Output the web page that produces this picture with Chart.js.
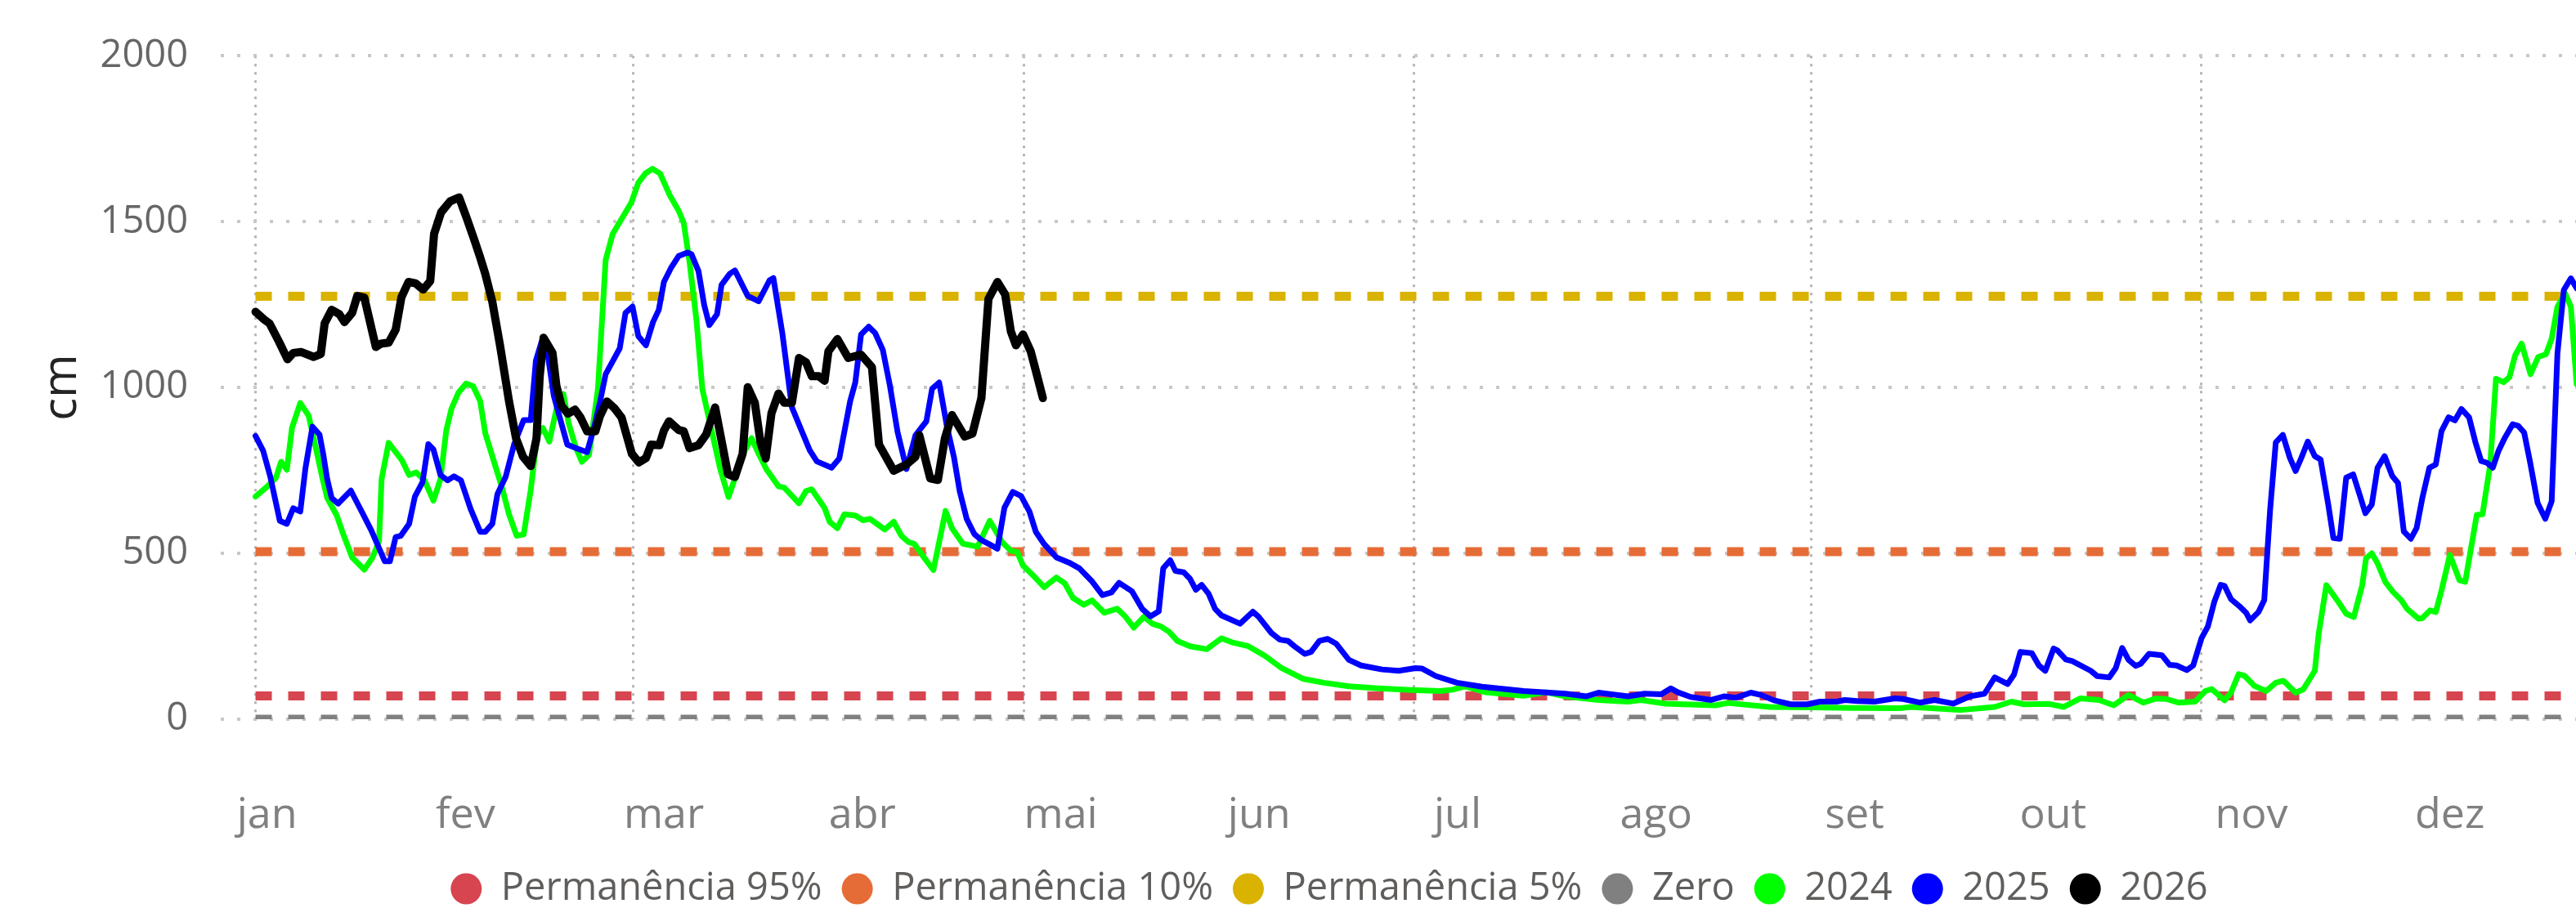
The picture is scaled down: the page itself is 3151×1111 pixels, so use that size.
<!DOCTYPE html>
<html>
<head>
<meta charset="utf-8">
<script src="https://cdn.jsdelivr.net/npm/chart.js@4.4.1/dist/chart.umd.min.js"></script>
<style>
html,body{margin:0;padding:0;background:#ffffff;overflow:hidden;width:3151px;height:1111px;}
#wrap{position:absolute;left:0;top:0;width:3252px;height:1121px;}
canvas{display:block;}
</style>
</head>
<body>
<div id="wrap"><canvas id="chart" width="3252" height="1121"></canvas></div>
<script>
// ---------- data (x = day of year, 0 = 1 jan) ----------
const monthLabels = ['jan','fev','mar','abr','mai','jun','jul','ago','set','out','nov','dez'];
const monthLabelDays = [1.8, 32.8, 63.8, 94.8, 125.8, 156.8, 187.8, 218.8, 249.8, 280.8, 311.8, 342.8];
const gridMonthDays = [0, 59, 120, 181, 243, 304];
const yTickValues = [0, 500, 1000, 1500, 2000];

const thresholdNames = ['Permanência 95%', 'Permanência 10%', 'Permanência 5%', 'Zero'];
const thresholdValues = [70, 505, 1275, 0];
const thresholdDays = [0, 365];

const seriesNames = ['2024', '2025', '2026'];

const series2024 = [[0,671],[1.7,699],[3.2,728],[4.0,776],[4.9,752],[5.7,878],[7.0,953],[8.3,915],[9.3,829],[10.4,732],[11.2,667],[12.7,614],[13.8,553],[15.1,488],[17.0,451],[18.3,488],[19.3,537],[19.7,724],[20.8,833],[22.9,780],[24.0,736],[25.1,744],[26.4,720],[27.8,659],[28.9,724],[29.8,870],[30.6,935],[31.7,984],[32.9,1012],[34.0,1004],[35.1,959],[35.9,862],[37.2,780],[38.5,699],[39.6,618],[40.8,553],[41.9,557],[43.0,691],[44.0,854],[44.9,878],[45.9,837],[47.2,951],[48.1,980],[48.9,894],[50.0,821],[51.0,776],[52.1,797],[53.5,996],[54.7,1384],[55.8,1463],[58.7,1557],[59.8,1617],[60.9,1645],[62.0,1659],[63.2,1645],[64.7,1580],[66.1,1533],[66.9,1496],[67.8,1379],[68.9,1201],[69.8,996],[71.2,875],[72.6,754],[73.9,670],[75.2,744],[76.3,805],[77.5,847],[78.6,800],[79.8,754],[81.7,702],[82.6,698],[84.9,651],[86.0,688],[86.9,693],[88.9,637],[89.7,595],[90.9,576],[92.0,618],[93.7,614],[94.9,600],[96.0,604],[98.3,572],[99.7,595],[100.9,553],[102.0,534],[102.9,529],[104.6,483],[105.9,450],[106.6,515],[107.8,628],[108.8,576],[110.5,529],[112.8,520],[114.7,598],[116.7,532],[118.0,508],[119.0,504],[119.9,463],[121.6,431],[123.2,398],[125.1,427],[126.4,410],[127.7,366],[129.4,345],[130.7,358],[132.6,321],[134.6,333],[135.9,309],[137.2,276],[138.8,309],[140.1,288],[141.4,280],[142.7,264],[144.0,236],[146.0,220],[148.6,211],[150.9,244],[152.5,232],[155.1,220],[157.7,191],[160.3,154],[163.6,122],[166.9,110],[170.8,99],[175.4,93],[180.5,88],[185.1,85],[187.0,89],[189.0,99],[192.2,81],[195.5,75],[198.1,71],[201.7,81],[204.6,69],[209.8,58],[214.4,53],[216.4,58],[220.3,47],[228.1,42],[230.0,49],[236.5,37],[243.0,36],[249.6,34],[256.8,33],[258.7,37],[266.5,28],[271.7,37],[274.3,53],[276.3,45],[280.2,46],[282.5,37],[285.1,63],[288.0,58],[290.3,42],[292.6,73],[294.9,50],[296.8,62],[298.5,61],[300.4,50],[303.0,53],[304.6,85],[305.6,91],[307.6,57],[308.6,80],[309.8,136],[310.7,131],[312.3,100],[314.1,85],[315.6,110],[316.8,116],[318.7,80],[319.9,90],[321.7,146],[322.3,257],[323.5,404],[325.4,353],[326.6,318],[327.8,308],[329.1,404],[329.7,485],[330.6,500],[331.5,470],[332.7,414],[333.9,384],[335.2,359],[336.1,333],[337.9,303],[338.5,305],[339.7,328],[340.6,323],[341.5,389],[342.8,495],[344.3,419],[345.2,414],[347.0,616],[347.9,618],[349.1,768],[350.0,1026],[351.2,1016],[352.1,1031],[353.0,1097],[354.0,1132],[355.4,1040],[356.6,1092],[357.8,1100],[358.7,1147],[359.6,1243],[360.8,1284],[361.7,1243],[362.6,1011]];

const series2025 = [[0,854],[1.2,809],[2.3,732],[3.8,598],[4.9,589],[5.9,636],[7.0,626],[7.8,756],[8.9,882],[10.0,858],[10.6,797],[11.2,724],[11.9,667],[12.9,650],[14.9,689],[15.7,659],[16.8,618],[18.1,569],[19.3,516],[20.2,476],[21.0,476],[21.9,549],[22.7,553],[24.0,589],[24.9,671],[26.1,715],[27.0,829],[27.8,813],[28.9,736],[30.0,720],[31.0,732],[32.1,720],[33.6,634],[35.1,565],[35.9,565],[37.0,589],[37.8,679],[39.1,732],[40.4,829],[41.9,902],[43.0,902],[43.8,1081],[44.7,1138],[45.5,1120],[46.6,975],[48.7,828],[50.4,815],[51.8,805],[52.9,880],[53.8,955],[54.7,1040],[56.9,1118],[57.8,1225],[58.9,1244],[59.8,1155],[61.0,1127],[62.1,1197],[63.0,1234],[63.8,1318],[64.9,1360],[66.1,1396],[67.5,1407],[68.1,1402],[69.2,1351],[70.1,1248],[70.9,1188],[72.1,1221],[72.8,1309],[74.1,1343],[74.9,1353],[76.9,1276],[78.6,1260],[80.3,1323],[80.9,1330],[82.3,1164],[83.8,940],[85.2,875],[86.6,810],[87.7,777],[90.0,758],[91.2,786],[92.9,959],[93.7,1015],[94.6,1160],[95.8,1183],[96.8,1164],[98.0,1113],[99.1,1006],[100.3,866],[101.7,754],[103.1,856],[104.8,898],[105.7,996],[106.8,1015],[108.0,884],[109.1,791],[110.0,688],[111.1,604],[112.3,558],[113.4,540],[114.5,529],[115.9,514],[117.0,638],[118.3,685],[119.6,673],[120.9,626],[121.9,565],[123.2,528],[125.1,488],[127.1,472],[128.7,455],[130.7,415],[132.3,374],[133.7,382],[134.9,411],[136.9,386],[138.5,333],[139.8,310],[141.1,325],[141.8,455],[142.9,479],[143.7,447],[145.0,443],[146.0,423],[146.9,390],[147.8,405],[148.9,378],[149.9,333],[150.9,313],[153.8,288],[155.8,324],[156.7,309],[158.7,260],[160.0,240],[161.3,236],[162.3,220],[163.9,197],[164.9,203],[166.2,236],[167.5,242],[168.8,228],[170.8,179],[172.7,162],[176.0,150],[178.6,146],[181.2,154],[182.2,153],[184.4,130],[187.7,110],[191.6,98],[198.1,85],[204.6,77],[207.9,69],[209.8,80],[211.8,75],[214.4,69],[217.0,77],[219.6,75],[221.1,93],[222.2,81],[224.2,67],[227.4,58],[229.4,69],[231.3,65],[233.6,80],[235.2,73],[237.2,57],[239.8,45],[242.4,45],[244.4,53],[247.0,53],[248.3,58],[250.2,55],[252.9,53],[256.1,63],[257.4,61],[260.0,50],[262.3,58],[265.2,47],[267.8,69],[270.1,77],[271.7,126],[273.7,106],[274.7,134],[275.7,203],[277.5,199],[278.6,162],[279.6,146],[280.9,213],[281.5,207],[282.8,180],[283.8,175],[286.7,146],[287.7,130],[289.6,126],[290.6,154],[291.6,215],[292.6,179],[293.7,161],[294.5,167],[295.8,197],[297.8,193],[299.0,164],[300.1,162],[301.7,148],[302.7,162],[304.0,244],[305.0,280],[306.0,354],[307.0,405],[307.6,402],[308.6,362],[309.9,341],[311.0,320],[311.6,298],[312.9,323],[313.8,359],[314.7,627],[315.6,834],[316.7,857],[317.8,788],[318.7,748],[319.6,788],[320.6,837],[321.7,793],[322.6,783],[323.8,647],[324.6,546],[325.6,544],[326.6,728],[327.7,738],[328.7,677],[329.6,621],[330.6,647],[331.5,758],[332.6,793],[333.8,733],[334.7,712],[335.6,566],[336.7,544],[337.6,576],[338.5,667],[339.6,758],[340.6,768],[341.5,869],[342.6,910],[343.6,901],[344.6,935],[345.8,910],[346.8,834],[347.7,778],[348.6,773],[349.5,758],[350.4,809],[351.4,849],[352.6,889],[353.5,884],[354.4,864],[355.3,778],[356.5,652],[357.7,604],[358.7,657],[359.6,1102],[360.6,1294],[361.7,1329],[362.6,1299]];

const series2026 = [[0,1228],[1.4,1204],[2.2,1193],[3.7,1137],[5.0,1085],[5.9,1104],[7.1,1107],[9.1,1092],[10.2,1101],[10.8,1193],[11.9,1234],[13.1,1221],[13.9,1197],[15.1,1225],[15.9,1276],[17.0,1271],[18.8,1122],[19.6,1132],[20.8,1135],[21.9,1174],[22.8,1272],[23.9,1318],[25.0,1314],[26.2,1295],[27.3,1321],[27.9,1463],[29.0,1528],[30.4,1561],[31.8,1573],[33.0,1510],[34.2,1444],[35.0,1398],[35.9,1342],[37.0,1258],[38.2,1127],[39.6,959],[40.7,847],[41.8,791],[43.0,763],[43.9,847],[44.4,1034],[45.0,1150],[46.4,1104],[47.0,1006],[47.8,945],[48.8,921],[49.9,933],[50.8,909],[51.8,868],[53.1,868],[53.8,913],[54.9,958],[56.1,937],[57.2,909],[58.8,800],[59.9,774],[61.0,787],[61.8,828],[63.1,826],[63.8,870],[64.6,898],[66.1,872],[66.9,868],[67.8,817],[69.2,826],[70.4,858],[71.8,940],[72.9,830],[73.8,739],[74.9,730],[76.1,800],[76.9,1001],[78.0,954],[78.9,833],[79.7,786],[80.6,922],[81.7,982],[82.6,954],[83.8,954],[84.9,1089],[86.0,1076],[86.9,1034],[88.0,1034],[88.9,1020],[89.5,1109],[90.9,1146],[92.6,1089],[94.6,1099],[96.3,1061],[97.4,828],[99.7,749],[101.7,768],[103.1,791],[103.7,856],[105.4,726],[106.6,721],[107.7,847],[108.8,917],[110.8,852],[112.0,861],[113.4,968],[114.5,1267],[115.9,1318],[117.1,1281],[118.0,1169],[118.8,1127],[119.9,1160],[121.1,1109],[122.0,1043],[123.0,968]];

// ---------- styling ----------
const thresholdColors = ['#D64550', '#E66C37', '#D9B300', '#808080'];
const seriesColors = ['#00FF00', '#0000FF', '#000000'];
const seriesWidths = [7, 7, 10];
const FONT = "'Open Sans', 'Noto Sans', sans-serif";

function toPoints(pairs) { return pairs.map(p => ({ x: p[0], y: p[1] })); }

function build() {
  Chart.defaults.font.family = FONT;
  const datasets = [];
  thresholdNames.forEach((name, i) => {
    datasets.push({
      label: name,
      data: thresholdDays.map(d => ({ x: d, y: thresholdValues[i] })),
      borderColor: thresholdColors[i],
      backgroundColor: thresholdColors[i],
      borderWidth: 11,
      borderDash: [20, 20],
      pointRadius: 0,
      order: 10 - i
    });
  });
  [series2024, series2025, series2026].forEach((s, i) => {
    datasets.push({
      label: seriesNames[i],
      data: toPoints(s),
      borderColor: seriesColors[i],
      backgroundColor: seriesColors[i],
      borderWidth: seriesWidths[i],
      borderJoinStyle: 'round',
      borderCapStyle: 'round',
      pointRadius: 0,
      tension: 0,
      order: 3 - i
    });
  });

  const xMin = -5.43, xMax = 375.4;

  new Chart(document.getElementById('chart'), {
    type: 'line',
    data: { datasets },
    options: {
      responsive: false,
      animation: false,
      events: [],
      layout: { padding: { top: 60, right: 0, left: 0, bottom: 0 } },
      scales: {
        x: {
          type: 'linear', position: 'bottom', min: xMin, max: xMax,
          afterBuildTicks: s => { s.ticks = monthLabelDays.map(v => ({ value: v })); },
          afterFit: s => { s.height = 160; },
          grid: { display: false, drawTicks: false },
          border: { display: false },
          ticks: {
            autoSkip: false, maxRotation: 0, minRotation: 0,
            padding: 87, color: '#808080', font: { size: 52 },
            callback: (v, i) => monthLabels[i]
          }
        },
        xg: {
          type: 'linear', position: 'bottom', min: xMin, max: xMax,
          afterBuildTicks: s => { s.ticks = gridMonthDays.map(v => ({ value: v })); },
          afterFit: s => { s.height = 0; },
          grid: { display: true, drawTicks: false, color: '#B4B4B4', lineWidth: 3, borderDash: [3, 7] },
          border: { display: false, dash: [3, 7] },
          ticks: { display: false }
        },
        y: {
          min: 0, max: 2000,
          afterBuildTicks: s => { s.ticks = yTickValues.map(v => ({ value: v })); },
          afterFit: s => { s.width = 270; },
          grid: { color: '#C8C8C8', lineWidth: 4, drawTicks: false, borderDash: [4, 16] },
          border: { display: false, dash: [4, 16] },
          ticks: { color: '#666666', font: { size: 47 }, padding: 40, callback: v => String(v) },
          title: {
            display: true, text: 'cm', color: '#252423',
            font: { size: 58 }, padding: { top: 42, bottom: 0 }
          }
        }
      },
      plugins: {
        tooltip: { enabled: false },
        legend: {
          position: 'bottom',
          labels: {
            usePointStyle: true, pointStyle: 'circle',
            boxHeight: 27, pointStyleWidth: 38,
            padding: 24, color: '#605E5C', font: { size: 47 },
            sort: (a, b) => a.datasetIndex - b.datasetIndex,
            generateLabels: chart => Chart.defaults.plugins.legend.labels.generateLabels(chart)
              .map(l => Object.assign(l, { lineWidth: 0, strokeStyle: 'rgba(0,0,0,0)', lineDash: [] }))
          }
        }
      }
    }
  });
}

const fontLoads = [47, 52, 58].map(sz => document.fonts.load(sz + "px 'Open Sans'"));
Promise.all(fontLoads).then(build, build);
</script>
</body>
</html>
